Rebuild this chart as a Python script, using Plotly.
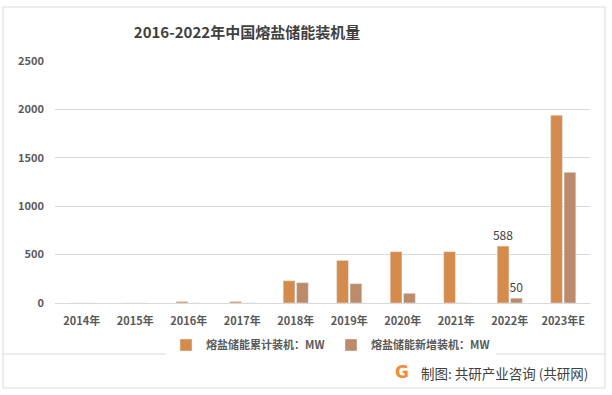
import plotly.graph_objects as go

categories = ["2014年", "2015年", "2016年", "2017年", "2018年", "2019年", "2020年", "2021年", "2022年", "2023年E"]
cumulative = [0, 0, 15, 15, 230, 440, 530, 530, 588, 1940]
new_added = [0, 0, 0, 0, 210, 200, 100, 0, 50, 1350]
cum_labels = ["", "", "", "", "", "", "", "", "588", ""]
new_labels = ["", "", "", "", "", "", "", "", "50", ""]
y_ticks = [0, 500, 1000, 1500, 2000, 2500]

FONT = "Noto Sans CJK SC"

fig = go.Figure()
fig.add_trace(go.Bar(
    x=categories, y=cumulative, name="<b>熔盐储能累计装机：MW</b>",
    marker_color="#D48B4C", text=cum_labels, textposition="outside", constraintext="none",
    textfont=dict(size=12, color="#404040", family=FONT), cliponaxis=False,
))
fig.add_trace(go.Bar(
    x=categories, y=new_added, name="<b>熔盐储能新增装机：MW</b>",
    marker_color="#BC8C6A", text=new_labels, textposition="outside", constraintext="none",
    textfont=dict(size=12, color="#404040", family=FONT), cliponaxis=False,
))

PL, PR, PT, PB = 55, 590, 61, 303
def px(x):
    return (x - PL) / (PR - PL)
def py(y):
    return (PB - y) / (PB - PT)

fig.update_layout(
    width=612, height=395,
    paper_bgcolor="white", plot_bgcolor="white",
    margin=dict(l=PL, r=612 - PR, t=PT, b=395 - PB, autoexpand=False),
    barmode="group", bargap=0.5, bargroupgap=0.12,
    font=dict(family=FONT, color="#595959"),
    title=dict(text="<b>2016-2022年中国熔盐储能装机量</b>", xref="container", x=247 / 612, xanchor="center",
               y=1 - 33 / 395, yanchor="middle", font=dict(size=15, color="#404040", family=FONT)),
    showlegend=True,
    legend=dict(orientation="h", x=px(166), xanchor="left", y=py(345), yanchor="middle",
                font=dict(size=11, color="#595959", family=FONT), entrywidth=120,
                traceorder="normal", tracegroupgap=0),
    xaxis=dict(showgrid=False, tickfont=dict(size=11, color="#595959", family=FONT, weight="bold"),
               ticks="", showline=False, ticklabelstandoff=10),
    yaxis=dict(range=[0, 2500], tickvals=y_ticks, showgrid=True, gridcolor="#D9D9D9",
               gridwidth=1, zeroline=True, zerolinecolor="#D9D9D9", zerolinewidth=1,
               tickfont=dict(size=11, color="#595959", family=FONT, weight="bold"), ticks="",
               showline=False, ticklabelstandoff=10),
    shapes=[
        dict(type="rect", xref="paper", yref="paper", x0=px(3), x1=px(605),
             y0=py(388), y1=py(7), line=dict(color="#D9D9D9", width=1)),
        dict(type="line", xref="paper", yref="paper", x0=px(3), x1=px(605),
             y0=py(354), y1=py(354), line=dict(color="#D9D9D9", width=1)),
    ],
    annotations=[
        dict(text="制图: 共研产业咨询 (共研网)", xref="paper", yref="paper",
             x=px(419), xanchor="left", y=py(373), yanchor="middle",
             showarrow=False, font=dict(size=13.5, color="#404040", family=FONT)),
        dict(text="<b>G</b>", xref="paper", yref="paper",
             x=px(402), xanchor="center", y=py(372), yanchor="middle",
             showarrow=False, font=dict(size=17, color="#F28A3A", family="DejaVu Sans")),
    ],
)

fig.write_html("out.html", config={"displayModeBar": False},
               post_script="document.body.style.margin='0';document.body.style.overflow='hidden';")
